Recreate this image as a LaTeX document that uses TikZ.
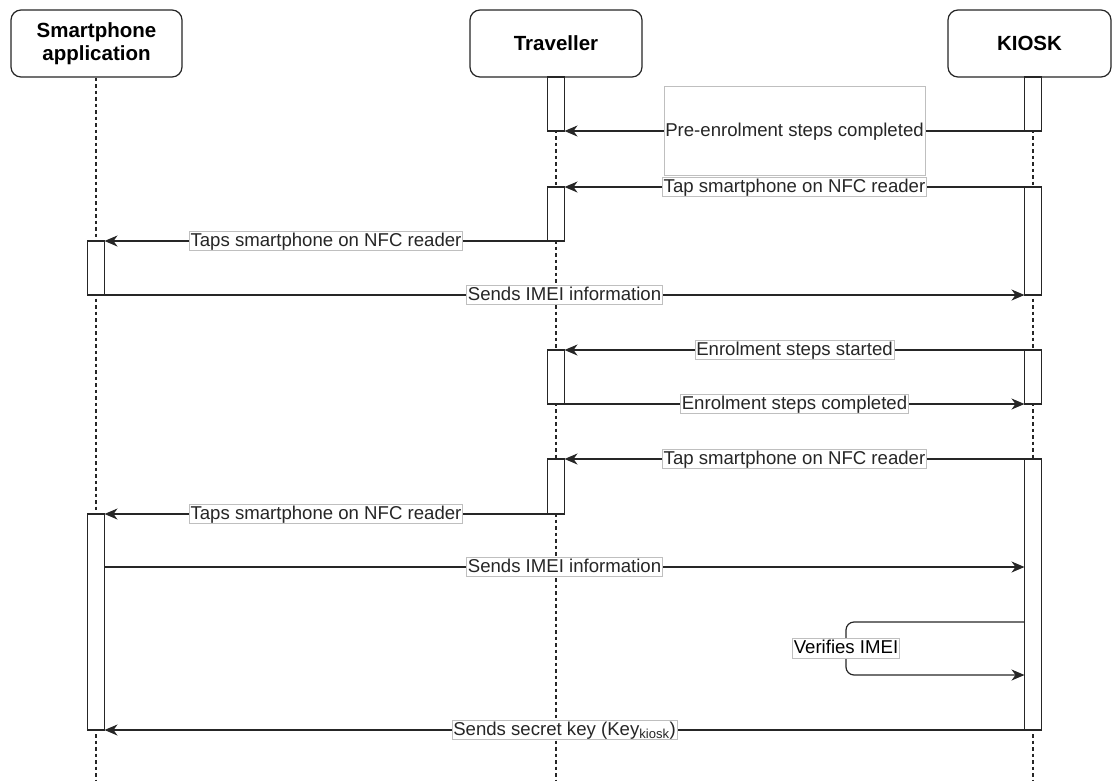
\documentclass[tikz,border=0pt]{standalone}
\usepackage{fontspec}
\setmainfont{Liberation Sans}
\usetikzlibrary{arrows.meta,calc}

% activation bar: name, lifeline coordinate, top y, bottom y
\newcommand\actbar[4]{%
  \node[bar, minimum height={#4-#3}] (#1) at ($(#2)+(0,{(#3+#4)/2})$) {};}

\begin{document}
\begin{tikzpicture}[x=1pt,y=-1pt,
  head/.style={draw=black!85, line width=1.2pt, rounded corners=10pt, fill=white,
    font=\fontsize{20.5}{22.5}\selectfont\bfseries, align=center, inner sep=0pt,
    minimum height=67pt},
  bar/.style={draw=black!85, line width=1.2pt, fill=white, minimum width=17pt,
    inner sep=0pt, outer sep=0pt},
  lifeline/.style={black!85, line width=1.4pt, dash pattern=on 3.5pt off 3pt},
  msg/.style={black!85, line width=1.2pt, -{Stealth[length=13pt,width=11pt,inset=4pt]}},
  lbl/.style={fill=white, draw=black!25, line width=0.7pt, inner sep=1.2pt,
    font=\fontsize{18.6}{18.6}\selectfont, text height=13.5pt, text depth=3.5pt}]

\useasboundingbox (0,0) rectangle (1112,780);

% participants
\node[head, minimum width=171pt] (hs) at (96.5,43.5) {Smartphone\\application};
\node[head, minimum width=172pt] (ht) at (556,43.5) {Traveller};
\node[head, minimum width=163pt] (hk) at (1029.5,43.5) {KIOSK};

% lifeline positions
\coordinate (xs) at (96,0);
\coordinate (xt) at (556,0);
\coordinate (xk) at (1033,0);
\coordinate (bottom) at (0,780);

\draw[lifeline] (xs |- hs.south) -- (xs |- bottom);
\draw[lifeline] (xt |- ht.south) -- (xt |- bottom);
\draw[lifeline] (xk |- hk.south) -- (xk |- bottom);

% activation bars
\actbar{t1}{xt}{77}{131}
\actbar{k1}{xk}{77}{131}
\actbar{t2}{xt}{187}{241}
\actbar{k2}{xk}{187}{295}
\actbar{s1}{xs}{241}{295}
\actbar{t3}{xt}{350}{404}
\actbar{k3}{xk}{350}{404}
\actbar{t4}{xt}{459}{514}
\actbar{k4}{xk}{459}{730}
\actbar{s2}{xs}{514}{730}

% message rows that do not sit on a bar end
\coordinate (m9) at (0,567);
\coordinate (m10a) at (0,622);
\coordinate (loopL) at (846,648.5);

% messages
\draw[msg] (k1.south west) -- node[lbl, minimum width=261pt, minimum height=89pt]
  {Pre-enrolment steps completed} (t1.south east);
\draw[msg] (k2.north west) -- node[lbl] {Tap smartphone on NFC reader} (t2.north east);
\draw[msg] (t2.south west) -- node[lbl] {Taps smartphone on NFC reader} (s1.north east);
\draw[msg] (s1.south east) -- node[lbl] {Sends IMEI information} (k2.south west);
\draw[msg] (k3.north west) -- node[lbl] {Enrolment steps started} (t3.north east);
\draw[msg] (t3.south east) -- node[lbl] {Enrolment steps completed} (k3.south west);
\draw[msg] (k4.north west) -- node[lbl] {Tap smartphone on NFC reader} (t4.north east);
\draw[msg] (t4.south west) -- node[lbl] {Taps smartphone on NFC reader} (s2.north east);
\draw[msg] (s2.east |- m9) -- node[lbl] {Sends IMEI information} (k4.west |- m9);
\draw[msg, rounded corners=8pt] (k4.west |- m10a) -| (loopL)
  |- ($(k4.west |- m10a)+(0,53)$);
\node[lbl] at (loopL) {Verifies IMEI};
\draw[msg] (k4.south west) -- node[lbl] {Sends secret key (Key\textsubscript{kiosk})} (s2.south east);

\end{tikzpicture}
\end{document}
